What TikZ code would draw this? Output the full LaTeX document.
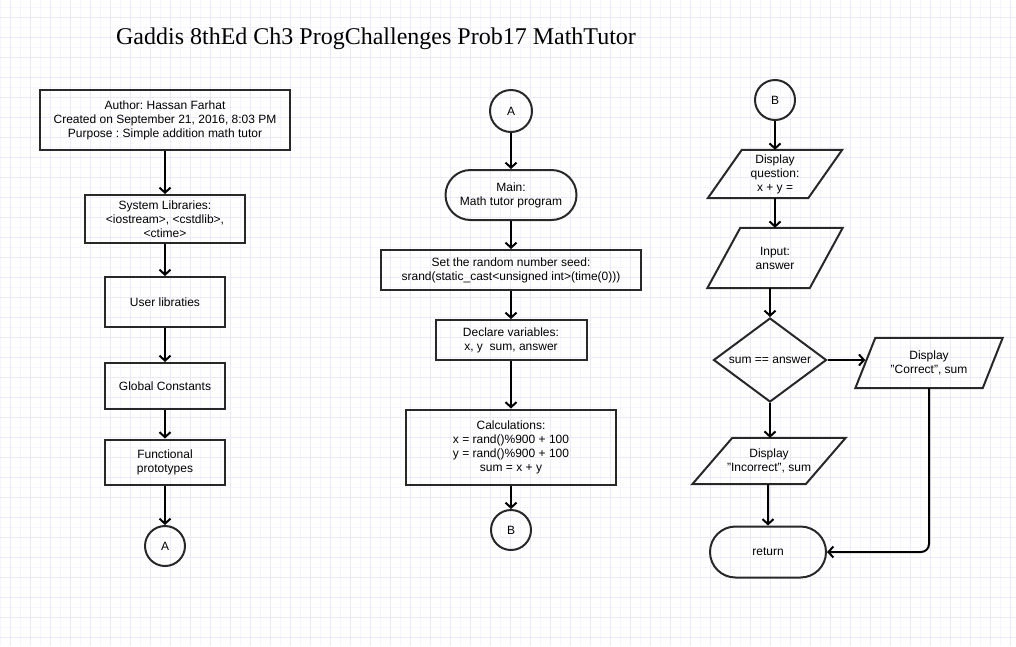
\documentclass[tikz,border=0pt]{standalone}
\usepackage{fontspec}
\setmainfont{Liberation Sans}
\newfontfamily\titlefont{Liberation Serif}
\usetikzlibrary{shapes.geometric,shapes.misc,arrows.meta}
\frenchspacing

\definecolor{gridminor}{RGB}{245,245,254}
\definecolor{gridmajor}{RGB}{234,234,251}
\definecolor{edge}{RGB}{40,40,40}

\tikzset{
  box/.style={draw=edge, line width=2pt, rectangle, align=center, inner sep=0pt},
  term/.style={draw=edge, line width=2pt, rounded rectangle, align=center, inner sep=0pt},
  conn/.style={draw=edge, line width=2pt, circle, inner sep=0pt, minimum size=40pt},
  % parallelogram: #1 is half of the slant
  io/.style={rectangle, align=center, inner sep=0pt,
    append after command={\pgfextra{\draw[draw=edge, line width=2pt, line join=miter]
      ([xshift=#1]\tikzlastnode.north west) -- ([xshift=#1]\tikzlastnode.north east)
      -- ([xshift=-#1]\tikzlastnode.south east) -- ([xshift=-#1]\tikzlastnode.south west) -- cycle;}}},
  dec/.style={draw=edge, line width=2pt, diamond, aspect=1.35, align=center, inner sep=0pt},
  flow/.style={line width=2pt, -{Straight Barb[length=5pt,width=11pt]}}
}

\begin{document}
\begin{tikzpicture}[x=1pt, y=-1pt, every node/.style={font=\fontsize{12}{14}\selectfont}]
	\useasboundingbox (0,0) rectangle (1016,646);
	\fill[white] (0,0) rectangle (1016,646);

	% background grid
	\foreach \gx in {0,20,...,1000} \draw[gridminor, line width=1pt] (\gx,0) -- (\gx,646);
	\foreach \gy in {7,27,...,646} \draw[gridminor, line width=1pt] (0,\gy) -- (1016,\gy);
	\foreach \gx in {10,30,...,1010} \draw[gridmajor, line width=1pt] (\gx,0) -- (\gx,646);
	\foreach \gy in {17,37,...,646} \draw[gridmajor, line width=1pt] (0,\gy) -- (1016,\gy);

	\node[font=\titlefont\fontsize{24}{28}\selectfont] (title) at (376,39) {Gaddis 8thEd Ch3 ProgChallenges Prob17 MathTutor};

	% first column
	\node[box, minimum width=250pt, minimum height=60pt] (author) at (165,120) {Author: Hassan Farhat\\Created on September 21, 2016, 8:03 PM\\Purpose : Simple addition math tutor};
	\node[box, minimum width=160pt, minimum height=48pt] (syslib) at (165,219) {System Libraries:\\<iostream>, <cstdlib>,\\<ctime>};
	\node[box, minimum width=120pt, minimum height=50pt] (userlib) at (165,302) {User libraties};
	\node[box, minimum width=120pt, minimum height=46pt] (globconst) at (165,386) {Global Constants};
	\node[box, minimum width=120pt, minimum height=45pt] (funcproto) at (165,462) {Functional\\prototypes};
	\node[conn] (conA1) at (165,546) {A};

	\draw[flow] (author) -- (syslib);
	\draw[flow] (syslib) -- (userlib);
	\draw[flow] (userlib) -- (globconst);
	\draw[flow] (globconst) -- (funcproto);
	\draw[flow] (funcproto) -- (conA1);

	% second column
	\node[conn, minimum size=42pt] (conA2) at (511,111) {A};
	\node[term, minimum width=131pt, minimum height=50pt] (main) at (511,195) {Main:\\Math tutor program};
	\node[box, minimum width=260pt, minimum height=40pt] (seed) at (511,270) {Set the random number seed:\\srand(static\_cast<unsigned int>(time(0)))};
	\node[box, minimum width=151pt, minimum height=40pt] (declare) at (511,340) {Declare variables:\\x, y~~sum, answer};
	\node[box, minimum width=210pt, minimum height=75pt] (calc) at (511,447) {Calculations:\\x = rand()\%900 + 100\\y = rand()\%900 + 100\\sum = x + y};
	\node[conn] (conB1) at (511,530) {B};

	\draw[flow] (conA2) -- (main);
	\draw[flow] (main) -- (seed);
	\draw[flow] (seed) -- (declare);
	\draw[flow] (declare) -- (calc);
	\draw[flow] (calc) -- (conB1);

	% third column
	\node[conn] (conB2) at (775,100) {B};
	\node[io=17, minimum width=100pt, minimum height=48pt] (dispq) at (775,174) {Display\\question:\\x + y =};
	\node[io=16.5, minimum width=102pt, minimum height=60pt] (input) at (775,258) {Input:\\answer};
	\node[dec, minimum width=113pt, minimum height=84pt] (check) at (770,360) {sum == answer};
	\node[io=10, minimum width=127pt, minimum height=50pt] (correct) at (929,363) {Display\\"Correct", sum};
	\node[io=20, minimum width=113pt, minimum height=46pt] (incorrect) at (769,461) {Display\\"Incorrect", sum};
	\node[term, minimum width=116pt, minimum height=51pt] (ret) at (768,552) {return};

	\draw[flow] (conB2) -- (dispq);
	\draw[flow] (dispq) -- (input);
	\draw[flow] (input.south -| check) -- (check);
	\draw[flow] (check.east) -- (check.east -| correct.west);
	\draw[flow] (check) -- (check |- incorrect.north);
	\draw[flow] (incorrect.south -| ret) -- (ret);
	\draw[flow, rounded corners=8pt] (correct) |- (ret);
\end{tikzpicture}
\end{document}
